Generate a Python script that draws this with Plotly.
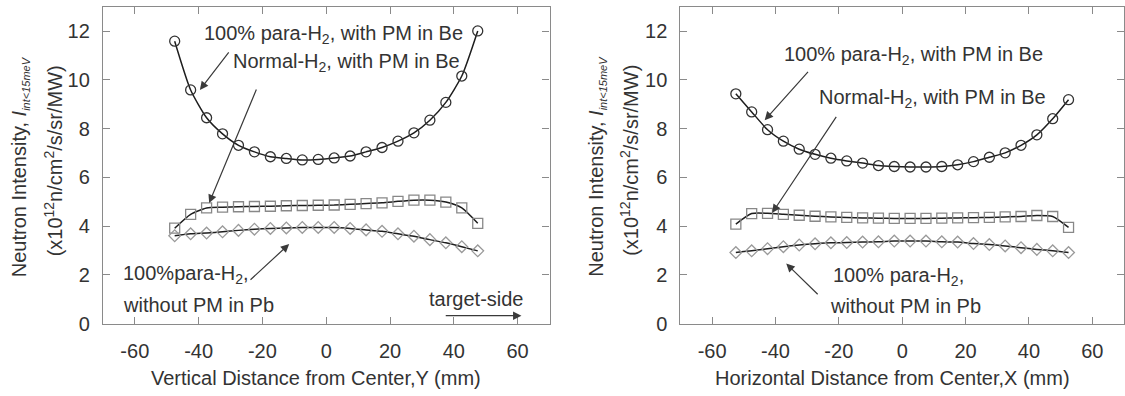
import plotly.graph_objects as go

# ---------------- data ----------------
x_vertical = [-47.5, -42.5, -37.5, -32.5, -27.5, -22.5, -17.5, -12.5, -7.5, -2.5,
              2.5, 7.5, 12.5, 17.5, 22.5, 27.5, 32.5, 37.5, 42.5, 47.5]
v_para_pm = [11.59, 9.59, 8.45, 7.79, 7.32, 7.05, 6.85, 6.78, 6.72, 6.74,
             6.80, 6.88, 7.05, 7.23, 7.49, 7.83, 8.35, 9.08, 10.16, 12.01]
v_normal_pm = [3.92, 4.49, 4.75, 4.78, 4.80, 4.81, 4.82, 4.84, 4.85, 4.86,
               4.87, 4.90, 4.93, 4.96, 5.02, 5.07, 5.07, 4.99, 4.75, 4.12]
v_para_nopm = [3.61, 3.69, 3.72, 3.77, 3.83, 3.88, 3.91, 3.93, 3.95, 3.95,
               3.95, 3.91, 3.85, 3.79, 3.69, 3.59, 3.45, 3.32, 3.16, 2.99]

x_horizontal = [-52.5, -47.5, -42.5, -37.5, -32.5, -27.5, -22.5, -17.5, -12.5, -7.5, -2.5,
                2.5, 7.5, 12.5, 17.5, 22.5, 27.5, 32.5, 37.5, 42.5, 47.5, 52.5]
h_para_pm = [9.43, 8.69, 7.96, 7.49, 7.16, 6.95, 6.79, 6.68, 6.59, 6.49, 6.45,
             6.43, 6.43, 6.45, 6.52, 6.65, 6.83, 7.01, 7.32, 7.75, 8.41, 9.19]
h_normal_pm = [4.09, 4.52, 4.53, 4.49, 4.45, 4.41, 4.38, 4.36, 4.34, 4.33, 4.32,
               4.32, 4.32, 4.33, 4.34, 4.35, 4.36, 4.38, 4.40, 4.44, 4.40, 3.95]
h_para_nopm = [2.92, 2.99, 3.08, 3.16, 3.23, 3.28, 3.32, 3.33, 3.35, 3.36, 3.39,
               3.39, 3.39, 3.36, 3.35, 3.29, 3.25, 3.19, 3.12, 3.05, 2.99, 2.92]

x_ticks = [-60, -40, -20, 0, 20, 40, 60]
x_tick_labels = ["-60", "-40", "-20", "0", "20", "40", "60"]
y_ticks = [0, 2, 4, 6, 8, 10, 12]
y_tick_labels = ["0", "2", "4", "6", "8", "10", "12"]

label_para_pm = "100% para-H<sub>2</sub>, with PM in Be"
label_normal_pm = "Normal-H<sub>2</sub>, with PM in Be"
y_title_1 = "Neutron Intensity, <i>I</i><sub><i><span style='font-size:11px'>int&lt;15meV</span></i></sub>"
y_title_2 = "(x10<sup>12</sup>n/cm<sup>2</sup>/s/sr/MW)"
x_title_left = "Vertical Distance from Center,Y (mm)"
x_title_right = "Horizontal Distance from Center,X (mm)"

# ---------------- style ----------------
W, H = 1125, 396
FONT = "Liberation Sans, Arial, Helvetica, sans-serif"
TXT = "#333333"
AX = "#8a8a8a"
FS = 20


def series(x, y, xa, ya, symbol, mcolor, msize, lw):
    return go.Scatter(
        x=x, y=y, xaxis=xa, yaxis=ya, mode="lines+markers",
        line=dict(color="#1e1e1e", width=lw, shape="spline", smoothing=0.6),
        marker=dict(symbol=symbol, size=msize, color=mcolor,
                    line=dict(color=mcolor, width=1.3)),
        showlegend=False, hoverinfo="skip")


fig = go.Figure()
fig.add_trace(series(x_vertical, v_para_pm, "x", "y", "circle-open", "#333333", 10, 1.5))
fig.add_trace(series(x_vertical, v_normal_pm, "x", "y", "square-open", "#888888", 10, 1.5))
fig.add_trace(series(x_vertical, v_para_nopm, "x", "y", "diamond-open", "#9a9a9a", 9, 1.5))
fig.add_trace(series(x_horizontal, h_para_pm, "x2", "y2", "circle-open", "#333333", 10, 1.5))
fig.add_trace(series(x_horizontal, h_normal_pm, "x2", "y2", "square-open", "#888888", 10, 1.5))
fig.add_trace(series(x_horizontal, h_para_nopm, "x2", "y2", "diamond-open", "#9a9a9a", 9, 1.5))


def xaxis(domain, anchor):
    return dict(domain=domain, anchor=anchor, range=[-70, 70], tickvals=x_ticks,
                ticktext=x_tick_labels,
                ticks="inside", ticklen=7, tickcolor=AX, showline=True, linecolor=AX,
                linewidth=1.2, mirror="ticks", showgrid=False, zeroline=False,
                tickfont=dict(size=FS, color=TXT, family=FONT), ticklabelstandoff=9)


def yaxis(domain, anchor):
    return dict(domain=domain, anchor=anchor, range=[0, 13], tickvals=y_ticks,
                ticktext=y_tick_labels,
                ticks="inside", ticklen=7, tickcolor=AX, showline=True, linecolor=AX,
                linewidth=1.2, mirror="ticks", showgrid=False, zeroline=False,
                tickfont=dict(size=FS, color=TXT, family=FONT), ticklabelstandoff=8)


ydom = [1 - 333 / H, 1 - 7 / H]
fig.update_layout(
    width=W, height=H, margin=dict(l=0, r=0, t=0, b=0),
    paper_bgcolor="white", plot_bgcolor="white",
    font=dict(family=FONT, color=TXT, size=FS),
    xaxis=xaxis([103 / W, 550 / W], "y"),
    yaxis=yaxis(ydom, "x"),
    xaxis2=xaxis([681 / W, 1.0], "y2"),
    yaxis2=yaxis(ydom, "x2"),
)

ann = []


def text(t, x, y, xr, yr, xanchor="left"):
    ann.append(dict(text=t, x=x, y=y, xref=xr, yref=yr, xanchor=xanchor,
                    yanchor="middle", showarrow=False,
                    font=dict(size=FS, color=TXT, family=FONT)))


DY = -0.25  # small vertical correction for arrow rendering


def arrow(hx, hy, tx, ty, xr, yr):
    ann.append(dict(text="", x=hx, y=hy + DY, ax=tx, ay=ty + DY, xref=xr, yref=yr,
                    axref=xr, ayref=yr, showarrow=True, arrowhead=2,
                    arrowsize=1.4, arrowwidth=1.2, arrowcolor="#3a3a3a"))


# left panel labels
text(label_para_pm, -38.9, 11.85, "x", "y")
text(label_normal_pm, -29.8, 10.7, "x", "y")
text("100%para-H<sub>2</sub>,", -64.4, 2.0, "x", "y")
text("without PM in Pb", -64.4, 0.76, "x", "y")
text("target-side", 31.7, 1.0, "x", "y")
arrow(-39.6, 9.84, -30.2, 11.44, "x", "y")
arrow(-36.7, 5.2, -21.7, 9.92, "x", "y")
arrow(-11.6, 3.52, -24.2, 2.0, "x", "y")
arrow(61.2, 0.58, 37.0, 0.58, "x", "y")

# right panel labels
text(label_para_pm, -37.8, 11.0, "x2", "y2")
text(label_normal_pm, -26.8, 9.25, "x2", "y2")
text("100% para-H<sub>2</sub>,", -22.4, 1.95, "x2", "y2")
text("without PM in Pb", -23.4, 0.74, "x2", "y2")
arrow(-43.4, 8.6, -29.3, 10.64, "x2", "y2")
arrow(-41.0, 4.8, -20.5, 8.8, "x2", "y2")
arrow(-36.6, 2.72, -26.2, 1.4, "x2", "y2")

# axis titles (as paper annotations for precise placement)
for cx1, cx2 in [(20, 53), (598, 630)]:
    ann.append(dict(text=y_title_1, x=cx1 / W, y=1 - 171 / H, xref="paper", yref="paper",
                    xanchor="center", yanchor="middle", textangle=-90, showarrow=False,
                    font=dict(size=FS, color=TXT, family=FONT)))
    ann.append(dict(text=y_title_2, x=cx2 / W, y=1 - 165 / H, xref="paper", yref="paper",
                    xanchor="center", yanchor="middle", textangle=-90, showarrow=False,
                    font=dict(size=FS, color=TXT, family=FONT)))
for cx, t in [(316, x_title_left), (893, x_title_right)]:
    ann.append(dict(text=t, x=cx / W, y=1 - 389 / H, xref="paper", yref="paper",
                    xanchor="center", yanchor="middle", showarrow=False,
                    font=dict(size=FS, color=TXT, family=FONT)))

fig.update_layout(annotations=ann)
fig.write_html("out.html")
